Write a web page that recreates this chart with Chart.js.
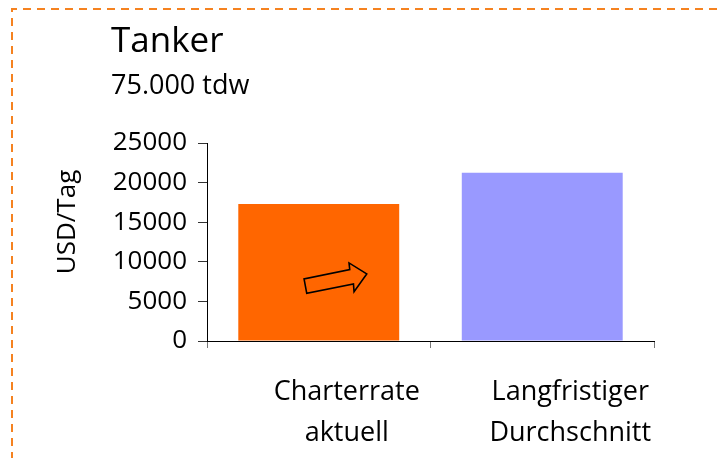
<!DOCTYPE html>
<html><head><meta charset="utf-8">
<script src="https://cdn.jsdelivr.net/npm/chart.js@4"></script>
<style>html,body{margin:0;padding:0;background:#fff}#wrap{width:718px;height:458px;position:relative}</style>
</head><body><div id="wrap"><canvas id="c" width="718" height="458"></canvas></div>
<script>
const chartTitle = 'Tanker';
const chartSubtitle = '75.000 tdw';
const yAxisTitle = 'USD/Tag';
const categories = [['Charterrate', 'aktuell'], ['Langfristiger', 'Durchschnitt']];
const values = [17300, 21250];
const barColors = ['#FF6600', '#9999FF'];
const yMin = 0, yMax = 25000, yStep = 5000;
const arrowValue = 8000;

const FONT = '"Open Sans", sans-serif';

const decorPlugin = {
  id: 'decor',
  afterDraw(chart) {
    const ctx = chart.ctx;
    ctx.save();
    // dashed frame
    ctx.strokeStyle = '#F58220';
    ctx.lineWidth = 2;
    ctx.setLineDash([8, 6]);
    ctx.beginPath();
    ctx.moveTo(12, 460);
    ctx.lineTo(12, 9);
    ctx.lineTo(720, 9);
    ctx.stroke();
    ctx.setLineDash([]);
    // title + subtitle
    ctx.fillStyle = '#000';
    ctx.textAlign = 'left';
    ctx.textBaseline = 'alphabetic';
    ctx.font = '35px ' + FONT;
    ctx.fillText(chartTitle, 111, 52);
    ctx.font = '27px ' + FONT;
    ctx.fillText(chartSubtitle, 111, 94);
    // y axis title
    ctx.save();
    ctx.translate(75, 222);
    ctx.rotate(-Math.PI / 2);
    ctx.textAlign = 'center';
    ctx.font = '26px ' + FONT;
    ctx.fillText(yAxisTitle, 0, 0);
    ctx.restore();
    // arrow inside first bar
    const bar = chart.getDatasetMeta(0).data[0];
    const cx = bar.x + 16;
    const cy = chart.scales.y.getPixelForValue(arrowValue);
    const pts = [[-30.7, 1.3], [-28, 15.7], [18.7, 6.3], [19.3, 14], [32, -3.7], [14.3, -14.7], [15, -8]];
    ctx.strokeStyle = '#000';
    ctx.lineWidth = 1.6;
    ctx.lineJoin = 'miter';
    ctx.beginPath();
    pts.forEach((p, i) => i ? ctx.lineTo(cx + p[0], cy + p[1]) : ctx.moveTo(cx + p[0], cy + p[1]));
    ctx.closePath();
    ctx.stroke();
    ctx.restore();
  }
};

new Chart(document.getElementById('c'), {
  type: 'bar',
  data: {
    labels: categories,
    datasets: [{
      data: values,
      backgroundColor: barColors,
      borderWidth: 0,
      barPercentage: 0.72,
      categoryPercentage: 1
    }]
  },
  options: {
    responsive: false,
    devicePixelRatio: 1,
    animation: false,
    layout: { padding: { top: 143, right: 64, bottom: 0, left: 0 } },
    plugins: { legend: { display: false }, tooltip: { enabled: false }, title: { display: false } },
    scales: {
      x: {
        afterFit(s) { s.height = 117; },
        grid: { offset: true, drawOnChartArea: false, drawTicks: true, tickLength: 7, color: '#777' },
        border: { color: '#000', width: 1 },
        ticks: { color: '#000', font: { family: FONT, size: 27, lineHeight: 1.52 }, padding: 24, labelOffset: 28, maxRotation: 0 }
      },
      y: {
        min: yMin, max: yMax,
        afterFit(s) { s.width = 207; },
        grid: { drawOnChartArea: false, drawTicks: true, tickLength: 9, color: '#333' },
        border: { color: '#000', width: 1 },
        ticks: { stepSize: yStep, color: '#000', font: { family: FONT, size: 26 }, padding: 11,
                 callback: v => String(v) }
      }
    }
  },
  plugins: [decorPlugin]
});
</script>
</body></html>
